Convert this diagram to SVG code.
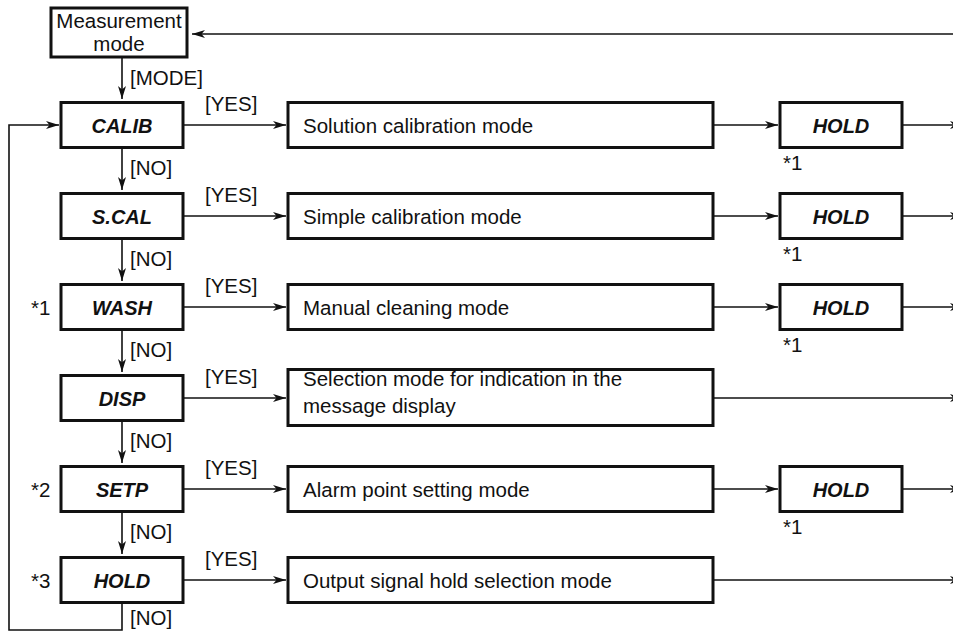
<svg xmlns="http://www.w3.org/2000/svg" width="953" height="632" viewBox="0 0 953 632">
<style>
text{font-family:"Liberation Sans",Arial,sans-serif;font-size:20.5px;fill:#111}
.n{font-weight:bold;font-style:italic;font-size:20px;text-anchor:middle}
.box{fill:#fff;stroke:#111;stroke-width:3}
.c{fill:none;stroke:#111;stroke-width:1.6}
.a{marker-end:url(#ah)}
</style>
<defs>
<marker id="ah" markerUnits="userSpaceOnUse" markerWidth="14" markerHeight="10" refX="13" refY="4.5" orient="auto">
<path d="M0,0.5 L13,4.5 L0,8.5 L3.5,4.5 Z" fill="#111"/>
</marker>
</defs>
<g id="connectors">
<path class="c a" d="M953,34 H192"/>
<path class="c a" d="M122,57 V99"/>
<path class="c a" d="M122,147.5 V190"/>
<path class="c a" d="M122,238.5 V281"/>
<path class="c a" d="M122,329.5 V372"/>
<path class="c a" d="M122,420.5 V463"/>
<path class="c a" d="M122,511.5 V554"/>
<path class="c a" d="M122,602.5 V630 H9 V125 H59"/>
<path class="c a" d="M183,125 H286"/>
<path class="c a" d="M183,216 H286"/>
<path class="c a" d="M183,307 H286"/>
<path class="c a" d="M183,398 H286"/>
<path class="c a" d="M183,489 H286"/>
<path class="c a" d="M183,580 H286"/>
<path class="c a" d="M713,125 H778"/>
<path class="c a" d="M713,216 H778"/>
<path class="c a" d="M713,307 H778"/>
<path class="c a" d="M713,489 H778"/>
<path class="c a" d="M902,125 H963"/>
<path class="c a" d="M902,216 H963"/>
<path class="c a" d="M902,307 H963"/>
<path class="c a" d="M713,398 H963"/>
<path class="c a" d="M902,489 H963"/>
<path class="c a" d="M713,580 H963"/>
<text x="130" y="85">[MODE]</text>
<text x="205" y="111">[YES]</text>
<text x="205" y="202">[YES]</text>
<text x="205" y="293">[YES]</text>
<text x="205" y="384">[YES]</text>
<text x="205" y="475">[YES]</text>
<text x="205" y="566">[YES]</text>
<text x="130" y="175">[NO]</text>
<text x="130" y="266">[NO]</text>
<text x="130" y="357">[NO]</text>
<text x="130" y="448">[NO]</text>
<text x="130" y="539">[NO]</text>
<text x="130" y="625">[NO]</text>
</g>
<g id="measurement">
<rect class="box" x="51" y="8" width="136" height="49"/>
<text x="119" y="28" text-anchor="middle">Measurement</text>
<text x="119" y="51" text-anchor="middle">mode</text>
</g>
<g id="calib">
<rect class="box" x="61" y="102.5" width="122" height="45"/>
<text class="n" x="122" y="133">CALIB</text>
</g>
<g id="scal">
<rect class="box" x="61" y="193.5" width="122" height="45"/>
<text class="n" x="122" y="224">S.CAL</text>
</g>
<g id="wash">
<rect class="box" x="61" y="284.5" width="122" height="45"/>
<text class="n" x="122" y="315">WASH</text>
<text x="31" y="315">*1</text>
</g>
<g id="disp">
<rect class="box" x="61" y="375.5" width="122" height="45"/>
<text class="n" x="122" y="406">DISP</text>
</g>
<g id="setp">
<rect class="box" x="61" y="466.5" width="122" height="45"/>
<text class="n" x="122" y="497">SETP</text>
<text x="31" y="497">*2</text>
</g>
<g id="hold">
<rect class="box" x="61" y="557.5" width="122" height="45"/>
<text class="n" x="122" y="588">HOLD</text>
<text x="31" y="588">*3</text>
</g>
<g id="solution">
<rect class="box" x="288" y="102.5" width="425" height="45"/>
<text x="303" y="133">Solution calibration mode</text>
</g>
<g id="simple">
<rect class="box" x="288" y="193.5" width="425" height="45"/>
<text x="303" y="224">Simple calibration mode</text>
</g>
<g id="manual">
<rect class="box" x="288" y="284.5" width="425" height="45"/>
<text x="303" y="315">Manual cleaning mode</text>
</g>
<g id="selection">
<rect class="box" x="288" y="369.5" width="425" height="56"/>
<text x="303" y="386">Selection mode for indication in the</text>
<text x="303" y="413">message display</text>
</g>
<g id="alarm">
<rect class="box" x="288" y="466.5" width="425" height="45"/>
<text x="303" y="497">Alarm point setting mode</text>
</g>
<g id="output">
<rect class="box" x="288" y="557.5" width="425" height="45"/>
<text x="303" y="588">Output signal hold selection mode</text>
</g>
<g id="hold1">
<rect class="box" x="780" y="102.5" width="122" height="45"/>
<text class="n" x="841" y="133">HOLD</text>
<text x="783" y="170">*1</text>
</g>
<g id="hold2">
<rect class="box" x="780" y="193.5" width="122" height="45"/>
<text class="n" x="841" y="224">HOLD</text>
<text x="783" y="261">*1</text>
</g>
<g id="hold3">
<rect class="box" x="780" y="284.5" width="122" height="45"/>
<text class="n" x="841" y="315">HOLD</text>
<text x="783" y="352">*1</text>
</g>
<g id="hold5">
<rect class="box" x="780" y="466.5" width="122" height="45"/>
<text class="n" x="841" y="497">HOLD</text>
<text x="783" y="534">*1</text>
</g>
</svg>
